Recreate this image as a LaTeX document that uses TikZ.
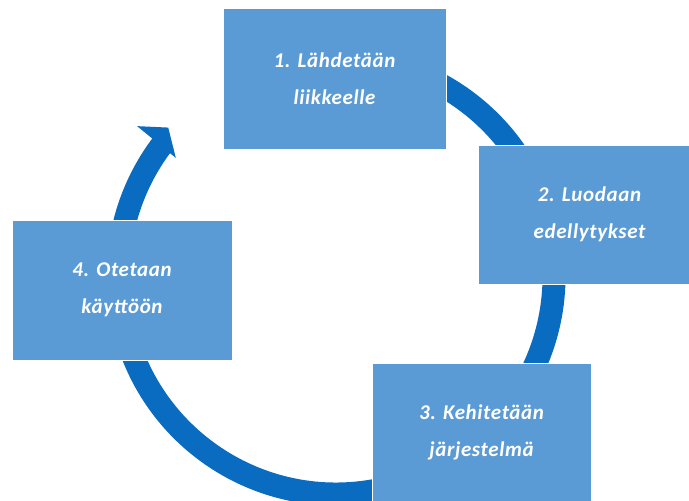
\documentclass[tikz,border=0pt]{standalone}
\usepackage{fontspec}
\setmainfont{Carlito}[LetterSpace=3]
\usetikzlibrary{calc}
\definecolor{boxblue}{RGB}{91,155,213}
\definecolor{ringblue}{RGB}{9,108,192}
\begin{document}
\begin{tikzpicture}[x=1pt,y=1pt,
  stepbox/.style={rectangle, fill=boxblue, draw=white, line width=0.8pt,
    text=white, align=center, inner sep=0pt,
    font=\fontsize{21}{37}\selectfont\bfseries\itshape},
  ring/.style={draw=ringblue, line width=23pt}]
\useasboundingbox (0,0) rectangle (689,501);
\coordinate (c) at (336,225);
% cycle ring running clockwise, ending in an arrowhead at the upper left
\draw[ring] ($(c)+(100:218)$) arc[start angle=100, end angle=-218, radius=218];
\fill[ringblue] ($(c)+(138.5:224)$) -- ($(c)+(143:249)$) -- ($(c)+(143.6:199)$) -- cycle;
% step boxes (the second one runs past the right edge)
\node[stepbox, minimum width=223, minimum height=141] (s1) at (334.5,422.5) {1. Lähdetään\\liikkeelle};
\node[stepbox, minimum width=223, minimum height=139] (s2) at (589.5,286.5) {2. Luodaan\\edellytykset};
\node[stepbox, minimum width=219, minimum height=138] (s3) at (481.5,69) {3. Kehitetään\\järjestelmä};
\node[stepbox, minimum width=220, minimum height=140] (s4) at (122,211) {4. Otetaan\\käyttöön};
\end{tikzpicture}
\end{document}
